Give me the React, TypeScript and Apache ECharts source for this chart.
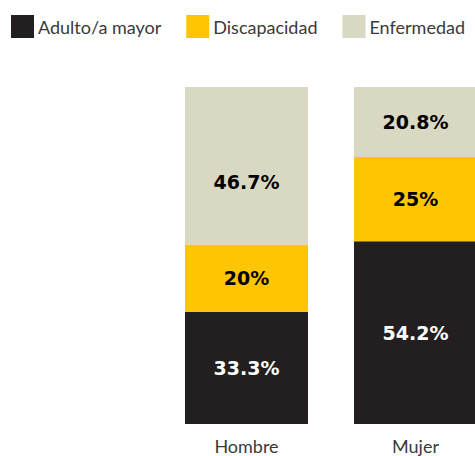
import React, { useEffect, useRef } from "react";
import * as echarts from "echarts";

const categories = ["Hombre", "Mujer"];
const seriesNames = ["Adulto/a mayor", "Discapacidad", "Enfermedad"];
const adulto = [33.3, 54.2];
const discapacidad = [20, 25];
const enfermedad = [46.7, 20.8];
const colors = ["#231f20", "#ffc600", "#d8d8c3"];
const labelColors = ["#ffffff", "#000000", "#000000"];

export default function App() {
  const ref = useRef<HTMLDivElement>(null);
  useEffect(() => {
    if (!ref.current) return;
    const chart = echarts.init(ref.current, undefined, { renderer: "svg" });
    const values = [adulto, discapacidad, enfermedad];
    chart.setOption({
      animation: false,
      legend: {
        left: 11,
        top: 15,
        padding: 0,
        itemWidth: 23,
        itemHeight: 23,
        itemGap: 25,
        icon: "rect",
        textStyle: { fontFamily: "Lato", fontSize: 18, color: "#3a3a3a", padding: [0, 0, 0, -1] },
        data: seriesNames,
      },
      grid: { left: 162, width: 338, top: 87, bottom: 32 },
      xAxis: {
        type: "category",
        data: categories,
        axisLine: { show: false },
        axisTick: { show: false },
        axisLabel: { fontFamily: "Lato", fontSize: 18, color: "#3a3a3a", margin: 13 },
      },
      yAxis: { type: "value", min: 0, max: 100, show: false },
      series: seriesNames.map((name, i) => ({
        name,
        type: "bar",
        stack: "total",
        barWidth: 123,
        itemStyle: { color: colors[i] },
        label: {
          show: true,
          position: "inside",
          color: labelColors[i],
          fontFamily: "DejaVu Sans",
          fontWeight: "bold",
          fontSize: 19,
          formatter: (p: any) => p.value + "%",
        },
        data: values[i].map((v, j) =>
          i === 2 && j === 0 ? { value: v, label: { offset: [0, 16] } } : v
        ),
      })),
    });
    return () => chart.dispose();
  }, []);
  return (
    <div style={{ position: "fixed", left: 0, top: 0, width: 475, height: 456, overflow: "hidden", background: "#fff" }}>
      <div ref={ref} style={{ width: 500, height: 456 }} />
    </div>
  );
}
